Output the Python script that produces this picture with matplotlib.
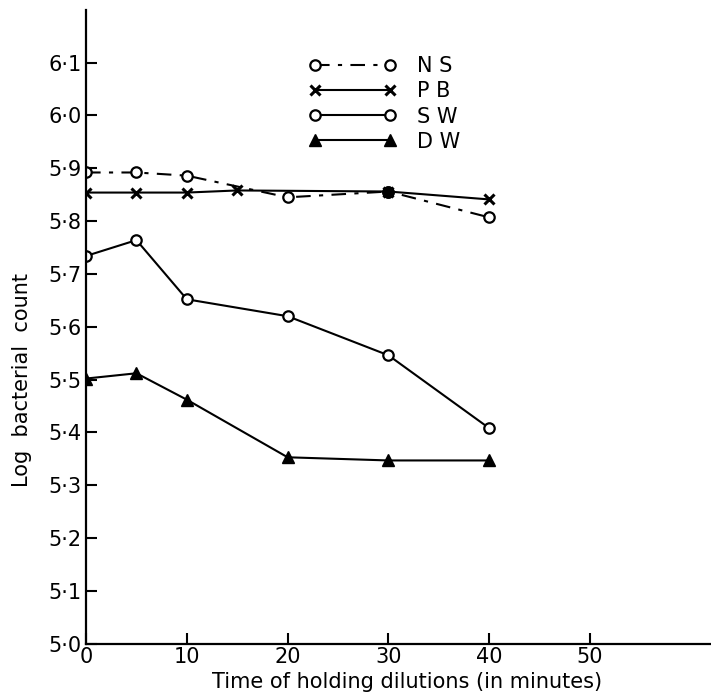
import numpy as np
import matplotlib
matplotlib.use('Agg')
import matplotlib.pyplot as plt

plt.rcParams['font.family'] = ['DejaVu Sans']

# 稀释液放置时间 (分钟) 与细菌计数的对数
ns_x = [0, 5, 10, 20, 30, 40]
ns_y = [5.892, 5.892, 5.886, 5.845, 5.856, 5.807]
pb_x = [0, 5, 10, 15, 30, 40]
pb_y = [5.854, 5.854, 5.854, 5.858, 5.856, 5.841]
sw_x = [0, 5, 10, 20, 30, 40]
sw_y = [5.734, 5.764, 5.652, 5.620, 5.546, 5.408]
dw_x = [0, 5, 10, 20, 30, 40]
dw_y = [5.502, 5.512, 5.462, 5.353, 5.347, 5.347]

xticks = [0, 10, 20, 30, 40, 50]
yticks = [5.0, 5.1, 5.2, 5.3, 5.4, 5.5, 5.6, 5.7, 5.8, 5.9, 6.0, 6.1]
ylabels = ['5·0', '5·1', '5·2', '5·3', '5·4', '5·5', '5·6', '5·7', '5·8', '5·9', '6·0', '6·1']

fig = plt.figure(figsize=(7.11, 6.96), dpi=100)
ax = fig.add_axes([0.121, 0.075, 0.879, 0.911])

lw = 1.5
ax.plot(ns_x, ns_y, color='k', lw=lw, ls=(0, (7, 4, 2, 4)), marker='o', ms=7.5,
        mfc='white', mec='k', mew=1.6, label='N S')
ax.plot(ns_x[4], ns_y[4], 'o', color='k', ms=8)
ax.plot(pb_x, pb_y, color='k', lw=lw, marker='x', ms=7, mew=2.2, label='P B')
ax.plot(sw_x, sw_y, color='k', lw=lw, marker='o', ms=7.5, mfc='white', mec='k',
        mew=1.6, label='S W')
ax.plot(dw_x, dw_y, color='k', lw=lw, marker='^', ms=8, label='D W')

ax.set_xlim(0, 62)
ax.set_ylim(5.0, 6.2)
ax.set_xticks(xticks)
ax.set_yticks(yticks)
ax.set_yticklabels(ylabels)
ax.tick_params(direction='in', length=8, width=1.5, labelsize=15, pad=2)
ax.tick_params(axis='y', pad=3)
for s in ['top', 'right']:
    ax.spines[s].set_visible(False)
for s in ['left', 'bottom']:
    ax.spines[s].set_linewidth(1.6)

ax.set_ylabel('Log  bacterial  count', fontsize=15)
ax.yaxis.set_label_coords(-0.086, 0.416)
ax.set_xlabel('Time of holding dilutions (in minutes)', fontsize=15)
ax.xaxis.set_label_coords(0.514, -0.045)

ax.legend(loc='upper left', bbox_to_anchor=(0.343, 0.94), frameon=False,
          numpoints=2, handlelength=4.2, fontsize=15, labelspacing=0.25,
          handletextpad=1.0, borderaxespad=0)

fig.savefig('out.png', dpi=100)
